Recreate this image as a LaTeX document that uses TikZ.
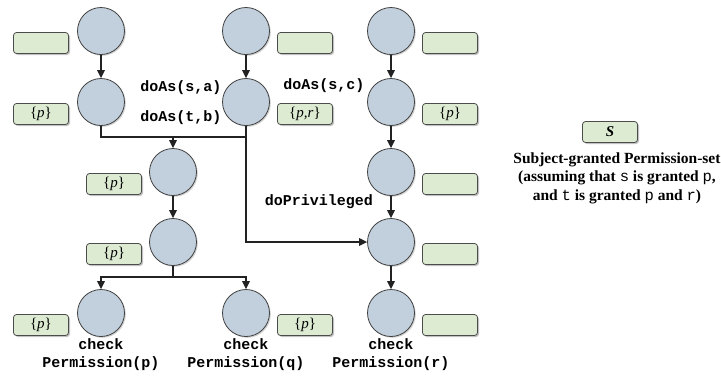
\documentclass[tikz,border=0pt]{standalone}
\usepackage{fontspec}
\setmainfont{Liberation Serif}
\setmonofont{Liberation Mono}
\usetikzlibrary{arrows.meta,shadows}

\definecolor{procfill}{HTML}{C2CFDC}
\definecolor{permfill}{HTML}{DDEBD3}
\definecolor{edgeline}{HTML}{222222}

\begin{document}
\begin{tikzpicture}[x=1pt,y=-1pt,
  proc/.style={circle, draw=black!75, line width=0.8pt, fill=procfill,
    minimum size=47pt, inner sep=0pt,
    drop shadow={shadow xshift=1.3pt, shadow yshift=-1.3pt, opacity=0.3, fill=black!60}},
  perm/.style={rounded corners=3pt, draw=black!70, line width=0.8pt, fill=permfill,
    minimum width=55pt, minimum height=21pt, inner sep=0pt,
    font=\fontsize{15}{15}\selectfont,
    drop shadow={shadow xshift=1.5pt, shadow yshift=-1.5pt, opacity=0.4, fill=black!60}},
  wire/.style={draw=edgeline, line width=1.6pt},
  flow/.style={wire, -{Triangle[length=8pt,width=7.5pt]}},
  call/.style={font=\fontsize{15}{18}\selectfont\ttfamily\bfseries, inner sep=0pt, align=center},
]
\useasboundingbox (0,0) rectangle (721,376);

% left column
\node[proc] (a1) at (101,31) {};
\node[proc] (a2) at (101,102) {};
\node[proc] (cp) at (101,313) {};
% middle column
\node[proc] (m1) at (173,172) {};
\node[proc] (m2) at (173,242) {};
% second column
\node[proc] (b1) at (246,31) {};
\node[proc] (b2) at (246,102) {};
\node[proc] (cq) at (246,313) {};
% right column
\node[proc] (r1) at (391,31) {};
\node[proc] (r2) at (391,102) {};
\node[proc] (r3) at (391,172) {};
\node[proc] (r4) at (391,242) {};
\node[proc] (cr) at (391,313) {};

% permission sets
\node[perm] (sa1) at (41,43) {};
\node[perm] (sa2) at (41,114) {\{\textit{p}\}};
\node[perm] (scp) at (41,325) {\{\textit{p}\}};
\node[perm] (sm1) at (114,184) {\{\textit{p}\}};
\node[perm] (sm2) at (114,254) {\{\textit{p}\}};
\node[perm] (sb1) at (305,43) {};
\node[perm] (sb2) at (305,114) {\{\textit{p,r}\}};
\node[perm] (scq) at (305,325) {\{\textit{p}\}};
\node[perm] (sr1) at (450,43) {};
\node[perm] (sr2) at (450,114) {\{\textit{p}\}};
\node[perm] (sr3) at (450,184) {};
\node[perm] (sr4) at (450,254) {};
\node[perm] (scr) at (450,325) {};

% joints
\coordinate (j1) at (173,137);
\coordinate (j2) at (173,277);

% connectors
\draw[flow] (a1) -- (a2);
\draw[flow] (b1) -- (b2);
\draw[flow] (r1) -- (r2);
\draw[flow] (r2) -- (r3);
\draw[flow] (r3) -- (r4);
\draw[flow] (r4) -- (cr);
\draw[wire] (a2.south) |- (b2.south |- j1);
\draw[flow] (j1) -- (m1);
\draw[flow] (b2.south) |- (r4.west);
\draw[flow] (m1) -- (m2);
\draw[wire] (m2.south) -- (j2);
\draw[flow] (j2) -| (cp.north);
\draw[flow] (j2) -| (cq.north);

% call labels
\node[call] (lsa) at (181,88) {doAs(s,a)};
\node[call] (ltb) at (181,118) {doAs(t,b)};
\node[call] (lsc) at (324,86) {doAs(s,c)};
\node[call] (ldp) at (319,202) {doPrivileged};
\node[call] (lcp) at (101,355) {check\\Permission(p)};
\node[call] (lcq) at (246,355) {check\\Permission(q)};
\node[call] (lcr) at (391,355) {check\\Permission(r)};

% legend
\node[perm] (legS) at (610,132) {\textbf{\textit{S}}};
\node[align=center, inner sep=0pt, font=\fontsize{15.5}{18.5}\selectfont\bfseries] (legtxt) at (617,178)
  {Subject-granted Permission-set\\
   (assuming that \texttt{\mdseries s} is granted \texttt{\mdseries p},\\
   and \texttt{\mdseries t} is granted \texttt{\mdseries p} and \texttt{\mdseries r})};
\end{tikzpicture}
\end{document}
